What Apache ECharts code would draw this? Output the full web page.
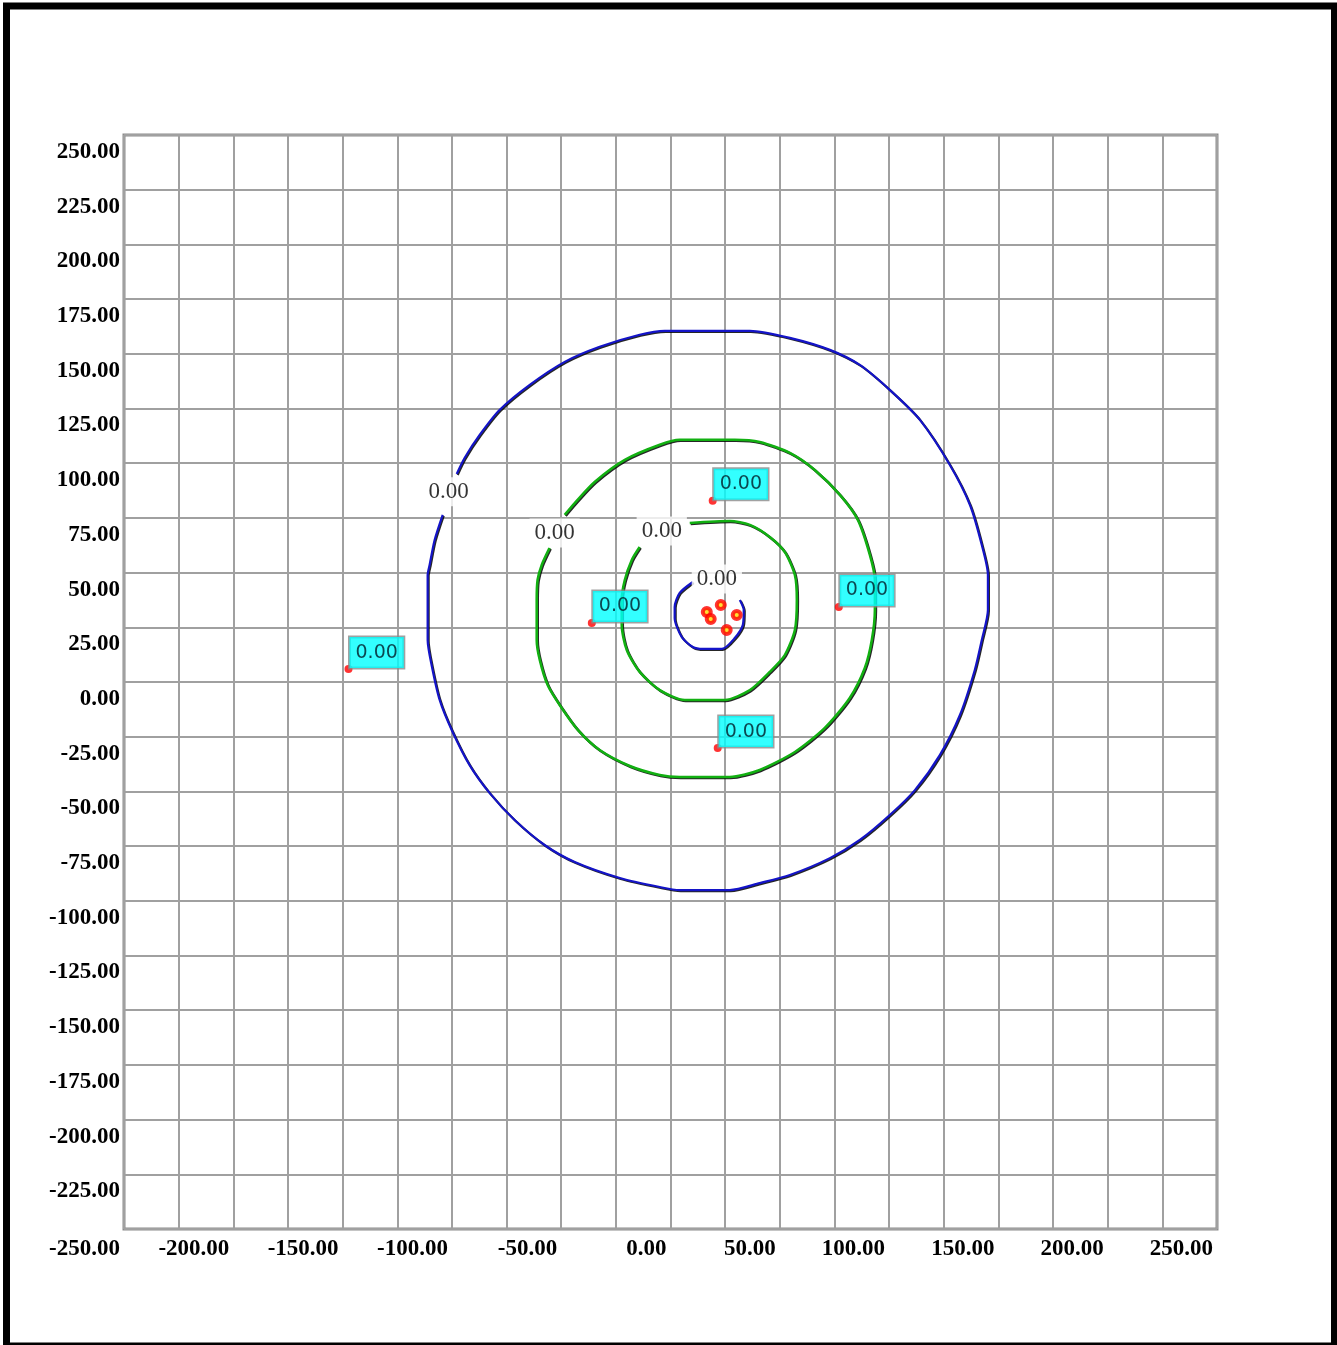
<!DOCTYPE html>
<html><head><meta charset="utf-8">
<script src="https://cdn.jsdelivr.net/npm/echarts@6/dist/echarts.min.js"></script>
<style>html,body{margin:0;padding:0;background:#fff}#c{width:1337px;height:1345px}</style>
</head><body><div id="c"></div>
<script>
const axisMin = -250, axisMax = 250, axisStep = 25;
const xLabelValues = [-250, -200, -150, -100, -50, 0, 50, 100, 150, 200, 250];
const yLabelValues = [250, 225, 200, 175, 150, 125, 100, 75, 50, 25, 0, -25, -50, -75, -100, -125, -150, -175, -200, -225];

const outerBlue = [[-104.2,76.4],[-107.9,64.9],[-110.2,53.5],[-111.1,48.9],[-111.1,19.2],[-109.3,7.8],[-105.6,-8.2],[-100.1,-21.9],[-91.9,-38.0],[-82.7,-50.8],[-71.3,-63.1],[-57.6,-74.5],[-43.8,-82.3],[-23.2,-89.6],[-4.9,-93.7],[4.2,-95.1],[27.1,-95.1],[40.8,-91.9],[54.6,-88.2],[72.9,-80.5],[86.6,-72.2],[100.3,-60.8],[111.8,-49.4],[123.2,-33.4],[132.4,-15.1],[139.2,5.5],[142.4,19.2],[145.2,32.9],[145.2,48.9],[142.4,62.6],[137.0,80.9],[127.8,99.2],[114.1,119.8],[100.3,133.5],[86.6,144.9],[72.9,151.8],[54.6,157.3],[36.3,160.5],[-2.6,160.5],[-14.1,158.7],[-32.4,153.2],[-48.4,146.3],[-64.4,135.8],[-78.1,124.4],[-87.3,112.9],[-94.2,102.4],[-97.8,95.1]];
const outerGreen = [[-55.3,61.3],[-58.9,53.5],[-60.8,46.6],[-61.2,37.5],[-61.2,19.2],[-59.8,10.1],[-56.2,-1.4],[-50.7,-10.5],[-42.4,-21.9],[-32.4,-31.1],[-18.6,-38.4],[-4.9,-42.5],[4.2,-43.4],[27.1,-43.4],[40.8,-40.2],[56.9,-32.0],[70.6,-21.0],[82.0,-7.3],[88.9,6.4],[92.1,19.2],[93.5,32.9],[93.5,46.6],[91.2,58.1],[85.7,74.1],[77.5,85.5],[66.0,96.9],[54.6,104.7],[40.8,109.7],[29.4,110.7],[4.2,110.7],[-4.9,108.4],[-20.9,101.5],[-34.7,91.4],[-43.8,81.8],[-48.4,76.4]];
const innerGreen = [[-14.1,61.7],[-17.7,55.8],[-20.9,46.6],[-22.3,37.5],[-22.3,26.1],[-20.0,14.6],[-14.1,4.6],[-4.9,-3.7],[6.5,-8.2],[24.8,-8.2],[36.3,-3.7],[45.4,4.6],[52.3,12.3],[56.9,23.8],[57.8,37.5],[56.9,48.9],[52.3,59.4],[45.4,66.3],[36.3,71.8],[27.1,73.6],[8.8,72.7]];
const innerBlue = [[10.2,45.7],[4.2,40.7],[1.9,34.3],[1.9,29.3],[5.1,20.6],[10.2,16.0],[14.8,15.1],[23.5,15.1],[29.4,20.1],[33.1,26.1],[33.5,32.9],[31.7,37.5]];

const contourLabelPoints = [[-101.5,86.9],[-53.0,68.1],[-4.0,69.0],[21.2,47.1]];
const contourLabelText = ['0.00','0.00','0.00','0.00'];

const wellPoints = [[-147.3,5.9],[-36.0,27.0],[19.3,82.8],[77.0,34.3],[21.6,-30.2]];
const wellLabels = ['0.00','0.00','0.00','0.00','0.00'];

const clusterPoints = [[16.6,32.0],[18.4,28.8],[23.0,35.2],[30.3,30.6],[25.7,23.8]];

const chart = echarts.init(document.getElementById('c'), null, {renderer: 'canvas'});

function contourLine(data, color, width) {
  return {
    type: 'line', data: data, showSymbol: false, symbol: 'none', smooth: 0.25,
    lineStyle: {color: color, width: width, shadowColor: 'rgba(0,0,0,0.85)', shadowBlur: 0, shadowOffsetX: 1, shadowOffsetY: 1},
    z: 3, silent: true, animation: false
  };
}

const axisFont = {fontFamily: 'Liberation Serif', fontWeight: 'bold', fontSize: 23, color: '#000'};

chart.setOption({
  animation: false,
  backgroundColor: '#fff',
  graphic: [{
    type: 'rect', shape: {x: 6.5, y: 6, width: 1328, height: 1340},
    style: {fill: 'none', stroke: '#000', lineWidth: 7}, z: 100, silent: true
  }],
  grid: {left: 124, top: 135, width: 1093, height: 1094, show: true, borderColor: '#8c8c8c', borderWidth: 3, backgroundColor: 'transparent'},
  xAxis: {
    type: 'value', min: axisMin, max: axisMax, interval: axisStep,
    axisLine: {show: false}, axisTick: {show: false},
    splitLine: {show: true, lineStyle: {color: '#a0a0a0', width: 2}},
    axisLabel: Object.assign({
      margin: 9, align: 'right', verticalAlign: 'top', lineHeight: 22, padding: [0, 4, 0, 0],
      formatter: v => xLabelValues.indexOf(v) >= 0 ? v.toFixed(2) : ''
    }, axisFont)
  },
  yAxis: {
    type: 'value', min: axisMin, max: axisMax, interval: axisStep,
    axisLine: {show: false}, axisTick: {show: false},
    splitLine: {show: true, lineStyle: {color: '#a0a0a0', width: 2}},
    axisLabel: Object.assign({
      margin: 4, align: 'right', verticalAlign: 'top', lineHeight: 22, padding: [6, 0, 0, 0],
      formatter: v => yLabelValues.indexOf(v) >= 0 ? v.toFixed(2) : ''
    }, axisFont)
  },
  series: [
    contourLine(outerBlue, '#1414c8', 2.2),
    contourLine(outerGreen, '#12b012', 2.6),
    contourLine(innerGreen, '#12b012', 2.6),
    contourLine(innerBlue, '#1414c8', 2.2),
    {
      type: 'scatter', symbolSize: 1, itemStyle: {color: 'rgba(0,0,0,0)'}, z: 5, silent: true,
      data: contourLabelPoints.map((p, i) => ({value: p, name: contourLabelText[i]})),
      label: {
        show: true, position: 'inside', formatter: p => p.name,
        fontFamily: 'Liberation Serif', fontSize: 23, color: '#000',
        backgroundColor: '#fff', padding: [3, 5, 2, 5], lineHeight: 24
      }
    },
    {
      type: 'scatter', symbol: 'circle', symbolSize: 8, itemStyle: {color: '#ff0000'}, z: 7, silent: true,
      data: wellPoints.map((p, i) => ({value: p, name: wellLabels[i]})),
      label: {
        show: true, position: [5, -28], formatter: p => p.name,
        fontFamily: 'DejaVu Sans', fontSize: 19, color: '#001a26',
        backgroundColor: '#00ffff', borderColor: '#8a8a8a', borderWidth: 1.5,
        padding: [5, 6, 5, 6], lineHeight: 21
      }
    },
    {
      type: 'scatter', symbol: 'circle', symbolSize: 8, z: 8, silent: true,
      itemStyle: {color: '#ffd800', borderColor: '#ff0000', borderWidth: 4},
      data: clusterPoints
    }
  ]
});
</script>
</body></html>
